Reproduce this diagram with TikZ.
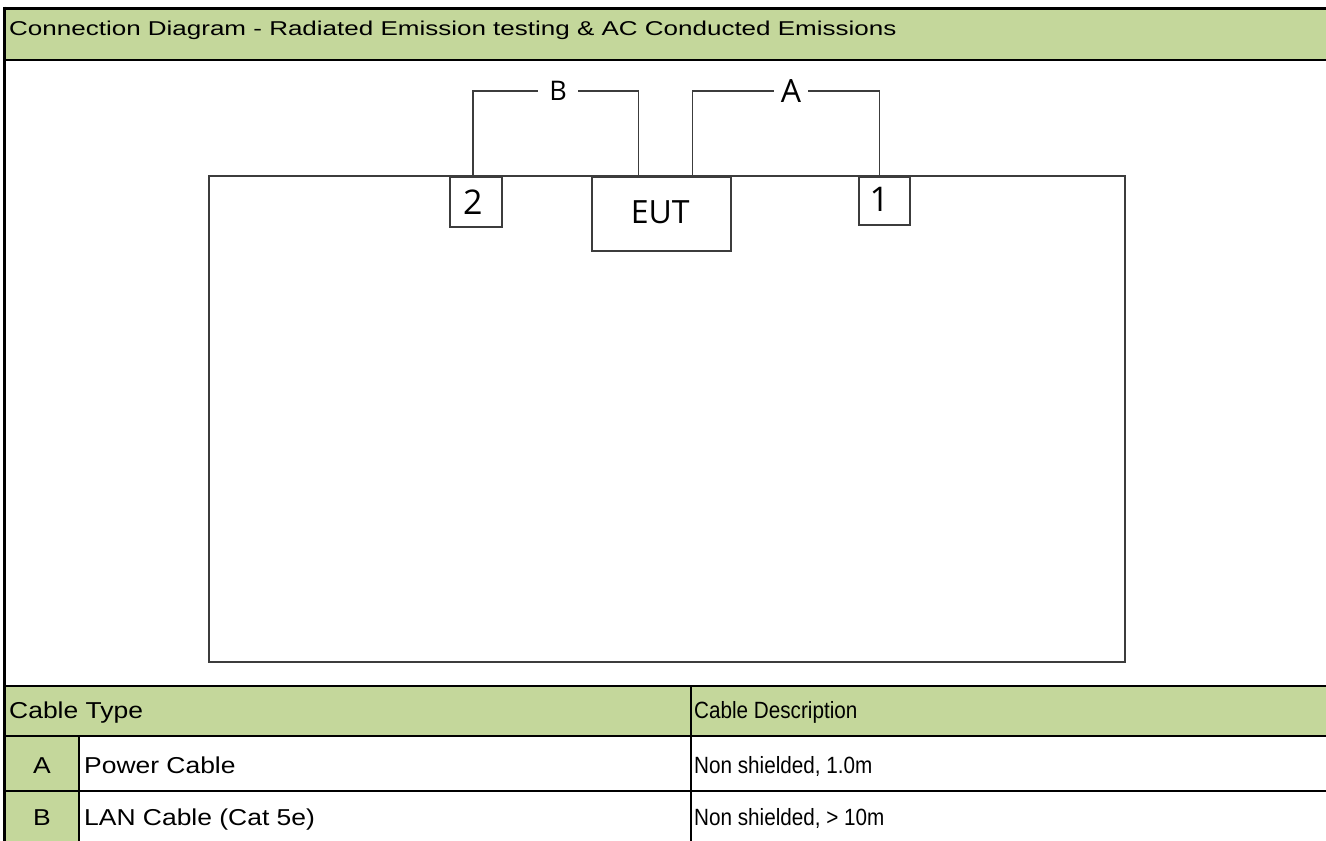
\documentclass[tikz,border=0pt]{standalone}
\usepackage{fontspec}
\setmainfont{Liberation Sans}
\newfontfamily\titlefont[FakeStretch=1.3]{Liberation Sans}
\newfontfamily\cellfont[FakeStretch=1.15]{Liberation Sans}
\newfontfamily\descfont[FakeStretch=0.88]{Liberation Sans}
\newfontfamily\labelfont{Open Sans}
\usepackage{tikz}
\usetikzlibrary{positioning,calc}
\definecolor{sheetgreen}{HTML}{C4D79B}
\definecolor{wire}{HTML}{3C3C3C}

\begin{document}
\begin{tikzpicture}[
        x=1pt, y=1pt,
        rule/.style={line width=2.2pt, black},
        cable/.style={line width=1.5pt, wire},
        port/.style={draw=wire, line width=1.5pt, fill=white, inner sep=0pt, anchor=north west},
        plug/.style={fill=white, inner sep=0pt, font=\labelfont\fontsize{27}{30}\selectfont},
        celltext/.style={anchor=base west, inner sep=0pt, font=\cellfont\fontsize{23}{26}\selectfont},
        desctext/.style={anchor=base west, inner sep=0pt, font=\descfont\fontsize{23.5}{26}\selectfont}
      ]

        \useasboundingbox (0,0) rectangle (1326,-841);

        % Title band ------------------------------------------------
        \fill[sheetgreen] (6,-9) rectangle (1326,-60);
        \node[anchor=base west, inner sep=0pt, font=\titlefont\fontsize{20}{24}\selectfont]
          (title) at (9,-35) {Connection Diagram - Radiated Emission testing \& AC Conducted Emissions};
        \draw[line width=3pt] (3,-8) -- (1326,-8);
        \draw[rule] (6,-60) -- (1326,-60);

        % Test room -------------------------------------------------
        \draw[cable] (209,-176) rectangle (1125,-662);

        % Ports and EUT
        \node[port, minimum width=52, minimum height=50] (p2) at (449,-176) {};
        \node[port, minimum width=139, minimum height=74] (eut) at (591,-176) {};
        \node[port, minimum width=51, minimum height=48] (p1) at (858,-176) {};

        \node[font=\labelfont\fontsize{34}{36}\selectfont] (n2) at ($(p2.center)+(-3,0)$) {2};
        \node[font=\labelfont\fontsize{32}{36}\selectfont] (neut) at ($(eut.center)+(-1,2)$) {EUT};
        \node[font=\labelfont\fontsize{34}{36}\selectfont] (n1) at ($(p1.center)+(-5,1)$) {1};

        % Cable labels
        \node[plug, minimum width=40] (lblB) at (558,-91) {B};
        \node[plug, minimum width=34, font=\labelfont\fontsize{32}{36}\selectfont] (lblA) at (791,-91) {A};

        % Cables ----------------------------------------------------
        \draw[cable] ([xshift=-3]p2.north) |- (lblB.west);
        \draw[cable] (lblB.east) -| ([xshift=-23]eut.north);
        \draw[cable] ([xshift=31]eut.north) |- (lblA.west);
        \draw[cable] (lblA.east) -| ([xshift=-5]p1.north);

        % Cable table -----------------------------------------------
        \fill[sheetgreen] (6,-687) rectangle (1326,-735);
        \fill[sheetgreen] (6,-737) rectangle (78,-841);

        \draw[rule] (6,-686) -- (1326,-686);
        \draw[rule] (6,-736) -- (1326,-736);
        \draw[rule] (6,-791) -- (1326,-791);
        \draw[rule] (79,-736) -- (79,-841);
        \draw[rule] (691,-686) -- (691,-841);

        \node[celltext] (hType) at (9,-718) {Cable Type};
        \node[desctext] (hDesc) at (694,-718) {Cable Description};

        \node[celltext, anchor=base] (kA) at (42,-773) {A};
        \node[celltext] (tA) at (84,-773) {Power Cable};
        \node[desctext] (dA) at (694,-773) {Non shielded, 1.0m};

        \node[celltext, anchor=base] (kB) at (42,-825) {B};
        \node[celltext] (tB) at (84,-825) {LAN Cable (Cat 5e)};
        \node[desctext] (dB) at (694,-825) {Non shielded, > 10m};

        % Left border
        \draw[line width=3pt] (4.5,-6.5) -- (4.5,-841);

      \end{tikzpicture}
\end{document}
